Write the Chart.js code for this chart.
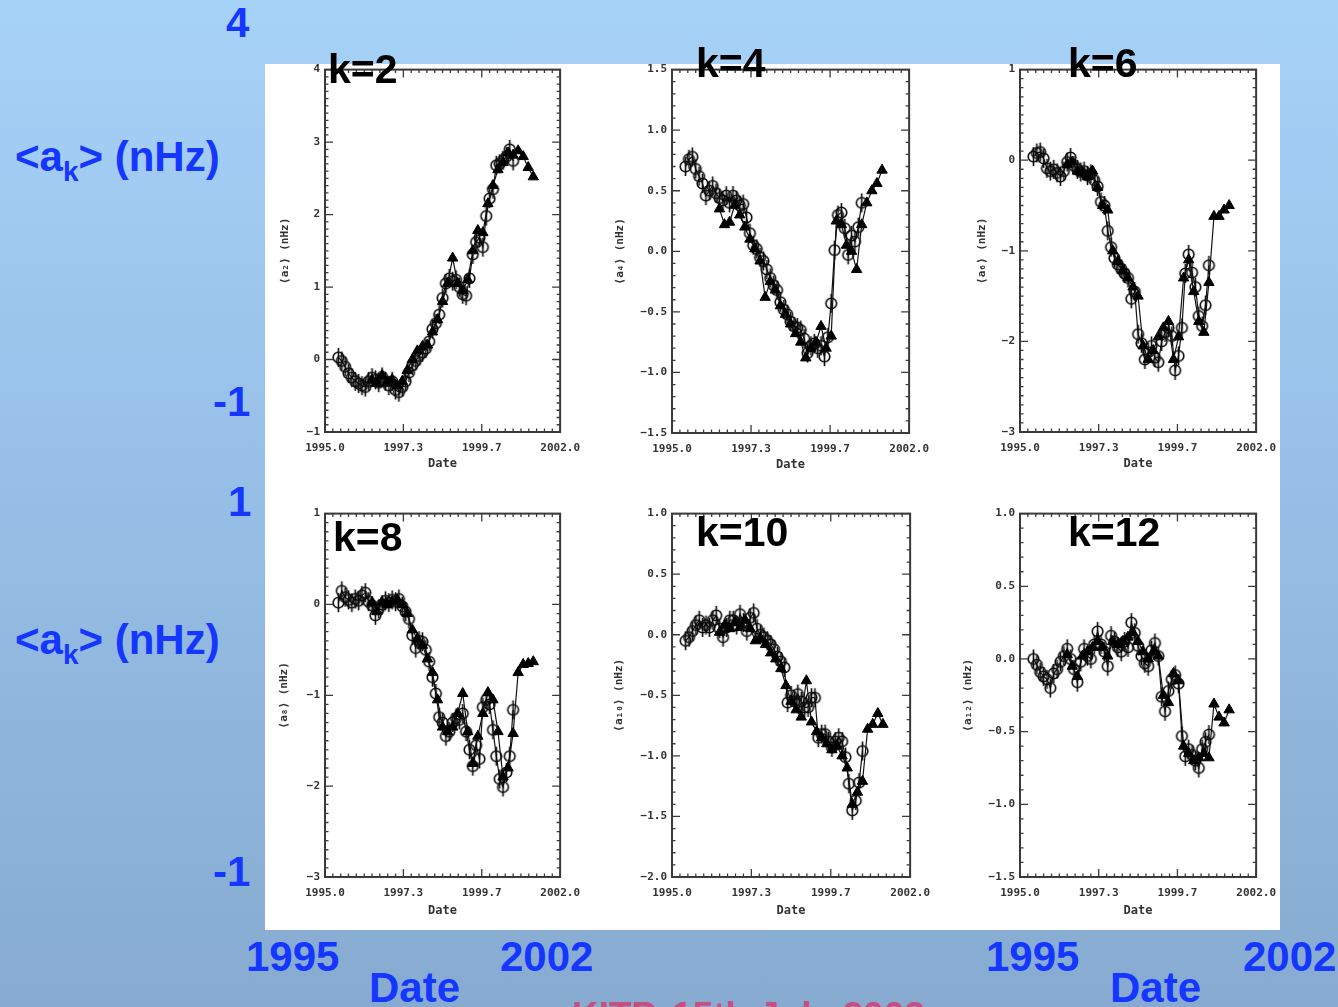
<!DOCTYPE html>
<html><head><meta charset="utf-8">
<script src="https://cdn.jsdelivr.net/npm/chart.js@4.4.1/dist/chart.umd.min.js"></script>
<style>
html,body{margin:0;padding:0;}
body{width:1338px;height:1007px;overflow:hidden;position:relative;background:linear-gradient(to bottom,#a7d2f8 0%,#98c0e8 45%,#87abd0 100%);font-family:"Liberation Sans",Arial,sans-serif;}
#panel{position:absolute;left:265px;top:64px;width:1015px;height:866px;background:#fff;overflow:hidden;}
#panel canvas{position:absolute;filter:blur(0.35px);}
.lbl{position:absolute;font-weight:bold;line-height:1;white-space:nowrap;}
.blue{color:#1436ff;font-size:42px;}
.k{color:#000;font-size:41px;}
.sub{font-size:28px;position:relative;top:10px;}
.pink{color:#c4507f;font-size:37px;}
</style></head><body>
<div id="panel"></div>

<div class="lbl blue" style="left:226px;top:2px;">4</div>
<div class="lbl blue" style="left:15px;top:136px;">&lt;a<span class="sub">k</span>&gt; (nHz)</div>
<div class="lbl blue" style="left:213px;top:381px;">-1</div>
<div class="lbl blue" style="left:228px;top:481px;">1</div>
<div class="lbl blue" style="left:15px;top:619px;">&lt;a<span class="sub">k</span>&gt; (nHz)</div>
<div class="lbl blue" style="left:213px;top:851px;">-1</div>
<div class="lbl blue" style="left:246px;top:936px;">1995</div>
<div class="lbl blue" style="left:500px;top:936px;">2002</div>
<div class="lbl blue" style="left:369px;top:967px;">Date</div>
<div class="lbl blue" style="left:986px;top:936px;">1995</div>
<div class="lbl blue" style="left:1243px;top:936px;">2002</div>
<div class="lbl blue" style="left:1110px;top:967px;">Date</div>
<div class="lbl pink" style="left:572px;top:997px;">KITP, 15th July 2002</div>

<div class="lbl k" style="left:328px;top:49px;">k=2</div>
<div class="lbl k" style="left:696px;top:43px;">k=4</div>
<div class="lbl k" style="left:1068px;top:43px;">k=6</div>
<div class="lbl k" style="left:333px;top:517px;">k=8</div>
<div class="lbl k" style="left:696px;top:512px;">k=10</div>
<div class="lbl k" style="left:1068px;top:512px;">k=12</div>

<script>
// ---- data ----
const circleDates = [1995.4,1995.5,1995.6,1995.7,1995.8,1995.9,
  1996.0,1996.1,1996.2,1996.3,1996.4,1996.5,1996.6,1996.7,1996.8,1996.9,
  1997.0,1997.1,1997.2,1997.3,1997.4,1997.5,1997.6,1997.7,1997.8,1997.9,
  1998.0,1998.1,1998.2,1998.3,1998.4,1998.5,1998.6,1998.7,1998.8,1998.9,
  1999.0,1999.1,1999.2,1999.3,1999.4,1999.5,1999.6,1999.7,1999.8,1999.9,
  2000.0,2000.1,2000.2,2000.3,2000.4,2000.5,2000.6];
const triangleDates = [1996.4,1996.55,1996.7,1996.85,1997.0,1997.15,1997.3,1997.45,1997.6,1997.75,
  1997.9,1998.05,1998.2,1998.35,1998.5,1998.65,1998.8,1998.95,1999.1,1999.25,
  1999.4,1999.55,1999.7,1999.85,2000.0,2000.15,2000.3,2000.45,2000.6,2000.75,
  2000.9,2001.05,2001.2];

const k2Circles = [0.03,-0.02,-0.10,-0.19,-0.25,-0.30,
  -0.33,-0.36,-0.38,-0.30,-0.25,-0.28,-0.32,-0.24,-0.30,-0.36,
  -0.30,-0.42,-0.45,-0.38,-0.30,-0.18,-0.08,-0.02,0.05,0.10,
  0.15,0.25,0.42,0.50,0.62,0.85,1.05,1.12,1.08,1.10,
  1.00,0.90,0.88,1.12,1.45,1.62,1.68,1.55,1.98,2.22,
  2.35,2.68,2.70,2.75,2.80,2.90,2.74];
const k2Triangles = [-0.28,-0.33,-0.22,-0.32,-0.28,-0.36,-0.30,-0.15,0.00,0.12,
  0.18,0.20,0.38,0.55,0.80,1.05,1.40,1.05,0.95,1.10,
  1.50,1.78,1.75,2.15,2.40,2.62,2.72,2.85,2.82,2.88,
  2.80,2.65,2.52];

const k4Circles = [0.70,0.76,0.78,0.68,0.62,0.56,
  0.46,0.50,0.54,0.48,0.44,0.42,0.46,0.40,0.46,0.42,
  0.38,0.39,0.28,0.15,0.05,0.02,-0.05,-0.08,-0.15,-0.22,
  -0.28,-0.32,-0.42,-0.48,-0.52,-0.58,-0.62,-0.63,-0.65,-0.72,
  -0.84,-0.78,-0.76,-0.80,-0.78,-0.87,-0.71,-0.43,0.01,0.30,
  0.32,0.19,-0.03,0.13,0.08,0.20,0.40];
const k4Triangles = [0.35,0.22,0.24,0.38,0.30,0.20,0.10,0.02,-0.08,-0.38,
  -0.25,-0.32,-0.45,-0.52,-0.60,-0.68,-0.75,-0.88,-0.80,-0.75,
  -0.62,-0.80,-0.70,0.25,0.22,0.05,0.00,-0.15,0.22,0.40,
  0.50,0.56,0.67];

const k6Circles = [0.04,0.08,0.09,0.02,-0.09,-0.12,
  -0.10,-0.14,-0.18,-0.12,-0.02,0.03,-0.06,-0.10,-0.13,-0.12,
  -0.17,-0.15,-0.22,-0.29,-0.46,-0.50,-0.78,-0.96,-1.08,-1.15,
  -1.20,-1.25,-1.30,-1.53,-1.45,-1.92,-2.02,-2.20,-2.12,-2.05,
  -2.18,-2.23,-2.00,-1.90,-1.85,-1.94,-2.32,-2.16,-1.85,-1.25,
  -1.04,-1.24,-1.40,-1.72,-1.83,-1.60,-1.16];
const k6Triangles = [-0.05,-0.02,-0.12,-0.14,-0.18,-0.12,-0.30,-0.50,-0.55,-1.00,
  -1.12,-1.22,-1.30,-1.40,-1.50,-2.05,-2.20,-2.10,-1.95,-1.85,
  -1.78,-2.20,-1.95,-1.30,-1.10,-1.45,-1.78,-1.90,-1.35,-0.62,
  -0.62,-0.55,-0.50];

const k8Circles = [0.02,0.15,0.08,0.05,0.02,0.06,
  0.04,0.10,0.13,0.03,-0.01,-0.12,-0.05,0.00,0.04,0.02,
  0.05,0.03,0.06,-0.02,-0.08,-0.16,-0.34,-0.48,-0.40,-0.41,
  -0.50,-0.63,-0.80,-0.98,-1.24,-1.30,-1.45,-1.40,-1.30,-1.25,
  -1.27,-1.20,-1.40,-1.60,-1.78,-1.55,-1.70,-1.13,-1.05,-1.10,
  -1.38,-1.67,-1.92,-2.01,-1.85,-1.67,-1.16];
const k8Triangles = [0.02,-0.08,0.02,0.00,0.03,0.05,0.00,-0.10,-0.28,-0.38,
  -0.45,-0.60,-0.75,-1.05,-1.35,-1.40,-1.35,-1.20,-0.98,-1.40,
  -1.75,-1.45,-1.20,-0.97,-1.05,-1.40,-1.90,-1.80,-1.42,-0.75,
  -0.66,-0.65,-0.63];

const k10Circles = [-0.05,-0.02,0.03,0.08,0.12,0.06,
  0.08,0.06,0.12,0.16,0.05,-0.02,0.06,0.12,0.12,0.08,
  0.17,0.10,0.03,0.14,0.18,0.05,0.00,-0.02,-0.05,-0.08,
  -0.12,-0.18,-0.22,-0.27,-0.56,-0.50,-0.55,-0.49,-0.55,-0.60,
  -0.60,-0.52,-0.52,-0.85,-0.82,-0.82,-0.88,-0.93,-0.88,-0.85,
  -0.88,-1.01,-1.23,-1.45,-1.37,-1.22,-0.96];
const k10Triangles = [0.02,0.08,0.05,0.10,0.06,0.12,0.05,-0.05,-0.03,-0.08,
  -0.15,-0.20,-0.28,-0.42,-0.55,-0.62,-0.68,-0.38,-0.72,-0.80,
  -0.85,-0.90,-0.95,-0.92,-1.00,-1.10,-1.40,-1.30,-1.21,-0.78,
  -0.74,-0.65,-0.74];

const k12Circles = [0.00,-0.04,-0.09,-0.12,-0.14,-0.20,
  -0.10,-0.07,-0.02,0.02,0.07,0.00,-0.07,-0.16,-0.02,0.07,
  0.02,0.00,0.10,0.19,0.10,0.05,-0.05,0.16,0.12,0.08,
  0.05,0.12,0.08,0.25,0.18,0.09,0.02,-0.03,-0.05,0.06,
  0.11,0.02,-0.26,-0.36,-0.22,-0.14,-0.11,-0.17,-0.53,-0.67,
  -0.62,-0.66,-0.70,-0.75,-0.62,-0.57,-0.52];
const k12Triangles = [0.03,-0.05,-0.12,0.02,0.05,0.08,0.12,0.08,0.02,0.12,
  0.10,0.12,0.15,0.18,0.12,0.05,0.00,0.05,0.02,-0.25,
  -0.30,-0.10,-0.15,-0.60,-0.65,-0.70,-0.68,-0.65,-0.68,-0.31,
  -0.40,-0.44,-0.35];

const xTickValues = [1995.0,1997.333,1999.667,2002.0];
const xTickLabels = ['1995.0','1997.3','1999.7','2002.0'];
const yTicksK2 = [-1,0,1,2,3,4];
const yTicksK4 = [-1.5,-1.0,-0.5,0.0,0.5,1.0,1.5];
const yTicksK6 = [-3,-2,-1,0,1];
const yTicksK8 = [-3,-2,-1,0,1];
const yTicksK10 = [-2.0,-1.5,-1.0,-0.5,0.0,0.5,1.0];
const yTicksK12 = [-1.5,-1.0,-0.5,0.0,0.5,1.0];
const yTitles = ['⟨a₂⟩ (nHz)','⟨a₄⟩ (nHz)','⟨a₆⟩ (nHz)','⟨a₈⟩ (nHz)','⟨a₁₀⟩ (nHz)','⟨a₁₂⟩ (nHz)'];

// ---- drawing ----
const PADT = 8, PADR = 28, BOX_L = 265, BOX_T = 64;
const INK = '#333';
const tickFont = {family:'DejaVu Sans Mono', size:11, weight:'bold'};

function pairs(xs, ys){ return xs.map((x,i)=>({x:x, y:ys[i]})); }

const circleImg = (function(){
  const c = document.createElement('canvas'); c.width = 15; c.height = 23;
  const g = c.getContext('2d');
  g.strokeStyle = '#0a0a0a'; g.lineWidth = 1.6;
  g.beginPath(); g.arc(7.5,11.5,5.3,0,Math.PI*2); g.stroke();
  g.beginPath(); g.moveTo(7.5,2); g.lineTo(7.5,21); g.stroke();
  return c;
})();

const framePlugin = {
  id:'frame',
  afterDatasetsDraw(chart, args, opts){
    const ctx = chart.ctx, a = chart.chartArea, x = chart.scales.x, y = chart.scales.y;
    ctx.save();
    ctx.strokeStyle = '#3a3a3a';
    ctx.lineWidth = 2;
    ctx.strokeRect(a.left, a.top, a.right - a.left, a.bottom - a.top);
    ctx.lineWidth = 1.3;
    ctx.beginPath();
    const yt = opts.yTicks;
    for (let i = 0; i < yt.length; i++){
      const p = y.getPixelForValue(yt[i]);
      ctx.moveTo(a.left, p); ctx.lineTo(a.left + 8, p);
      ctx.moveTo(a.right, p); ctx.lineTo(a.right - 8, p);
      if (i < yt.length - 1){
        const n = Math.round((yt[i+1] - yt[i]) / 0.1);
        for (let j = 1; j < n; j++){
          const q = y.getPixelForValue(yt[i] + (yt[i+1] - yt[i]) * j / n);
          ctx.moveTo(a.left, q); ctx.lineTo(a.left + 3.5, q);
          ctx.moveTo(a.right, q); ctx.lineTo(a.right - 3.5, q);
        }
      }
    }
    for (let i = 0; i < xTickValues.length; i++){
      const p = x.getPixelForValue(xTickValues[i]);
      ctx.moveTo(p, a.bottom); ctx.lineTo(p, a.bottom - 8);
      ctx.moveTo(p, a.top); ctx.lineTo(p, a.top + 8);
      if (i < xTickValues.length - 1){
        for (let j = 1; j < 10; j++){
          const q = x.getPixelForValue(xTickValues[i] + (xTickValues[i+1] - xTickValues[i]) * j / 10);
          ctx.moveTo(q, a.bottom); ctx.lineTo(q, a.bottom - 3.5);
          ctx.moveTo(q, a.top); ctx.lineTo(q, a.top + 3.5);
        }
      }
    }
    ctx.stroke();
    ctx.restore();
  }
};

function fmt(v, dec){
  const s = dec ? v.toFixed(1) : String(Math.round(v));
  return s.replace('-', '−');
}

function makePanel(cfg){
  const w = cfg.W + (cfg.R - cfg.L) + PADR;
  const h = PADT + (cfg.B - cfg.T) + cfg.H;
  const cv = document.createElement('canvas');
  cv.width = w; cv.height = h;
  cv.style.width = w + 'px'; cv.style.height = h + 'px';
  cv.style.left = (cfg.L - cfg.W - BOX_L) + 'px';
  cv.style.top = (cfg.T - PADT - BOX_T) + 'px';
  document.getElementById('panel').appendChild(cv);
  new Chart(cv, {
    type:'scatter',
    data:{datasets:[
      {data:pairs(triangleDates, cfg.tri), showLine:true, borderColor:'#111', borderWidth:1.2,
       pointStyle:'triangle', pointRadius:6, pointBackgroundColor:'#000', pointBorderColor:'#000', pointBorderWidth:1},
      {data:pairs(circleDates, cfg.circ), showLine:true, borderColor:'#111', borderWidth:1.2,
       pointStyle:circleImg, pointRadius:5}
    ]},
    options:{
      responsive:false, animation:false, devicePixelRatio:1,
      layout:{autoPadding:false, padding:{top:PADT, right:PADR, left:0, bottom:0}},
      plugins:{legend:{display:false}, tooltip:{enabled:false}, frame:{yTicks:cfg.yTicks}},
      scales:{
        x:{type:'linear', min:1995, max:2002,
          grid:{display:false, drawTicks:false}, border:{display:false},
          afterBuildTicks:(s)=>{ s.ticks = xTickValues.map(v=>({value:v})); },
          afterFit:(s)=>{ s.height = cfg.H; },
          ticks:{autoSkip:false, maxRotation:0, minRotation:0, padding:10, color:INK, font:tickFont,
            callback:(v,i)=>xTickLabels[i]},
          title:{display:true, text:'Date', color:INK, padding:0, font:{family:'DejaVu Sans Mono', size:12, weight:'bold'}}
        },
        y:{type:'linear', min:cfg.yTicks[0], max:cfg.yTicks[cfg.yTicks.length-1],
          grid:{display:false, drawTicks:false}, border:{display:false},
          afterBuildTicks:(s)=>{ s.ticks = cfg.yTicks.map(v=>({value:v})); },
          afterFit:(s)=>{ s.width = cfg.W; },
          ticks:{autoSkip:false, padding:5, color:INK, font:tickFont, callback:(v)=>fmt(v, cfg.dec)},
          title:{display:true, text:cfg.title, color:INK, padding:0, font:{family:'DejaVu Sans Mono', size:11, weight:'bold'}}
        }
      }
    },
    plugins:[framePlugin]
  });
}

makePanel({L:325,R:562,T:66,B:432,W:46,H:39,yTicks:yTicksK2,dec:0,title:yTitles[0],circ:k2Circles,tri:k2Triangles});
makePanel({L:672,R:911,T:66,B:433,W:58,H:39,yTicks:yTicksK4,dec:1,title:yTitles[1],circ:k4Circles,tri:k4Triangles});
makePanel({L:1020,R:1258,T:66,B:432,W:44,H:39,yTicks:yTicksK6,dec:0,title:yTitles[2],circ:k6Circles,tri:k6Triangles});
makePanel({L:325,R:562,T:510,B:877,W:47,H:41,yTicks:yTicksK8,dec:0,title:yTitles[3],circ:k8Circles,tri:k8Triangles});
makePanel({L:672,R:912,T:510,B:877,W:59,H:41,yTicks:yTicksK10,dec:1,title:yTitles[4],circ:k10Circles,tri:k10Triangles});
makePanel({L:1020,R:1258,T:510,B:877,W:58,H:41,yTicks:yTicksK12,dec:1,title:yTitles[5],circ:k12Circles,tri:k12Triangles});
</script>
</body></html>
